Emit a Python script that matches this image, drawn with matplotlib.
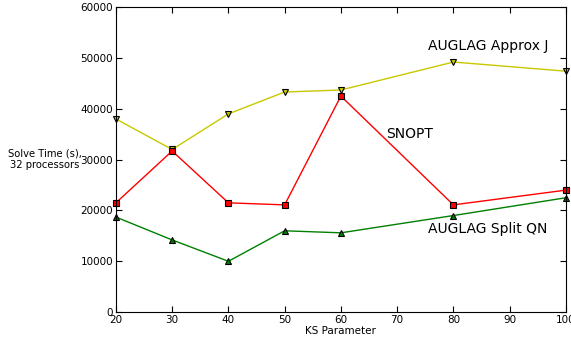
import matplotlib
matplotlib.use("Agg")
import matplotlib.pyplot as plt

ks = [20, 30, 40, 50, 60, 80, 100]
approx_j = [38000, 32000, 39000, 43300, 43700, 49200, 47400]
snopt = [21500, 31700, 21500, 21100, 42500, 21100, 24000]
split_qn = [18700, 14200, 10000, 16000, 15600, 19000, 22500]

fig = plt.figure(figsize=(5.71, 3.4), dpi=100)
ax = fig.add_axes([0.203, 0.082, 0.788, 0.897])

ax.plot(ks, approx_j, color="#c8c800", marker="v", markersize=5,
        markerfacecolor="#c8c800", markeredgecolor="black", markeredgewidth=0.8, lw=1, clip_on=False)
ax.plot(ks, snopt, color="red", marker="s", markersize=5,
        markerfacecolor="red", markeredgecolor="black", markeredgewidth=0.8, lw=1, clip_on=False)
ax.plot(ks, split_qn, color="green", marker="^", markersize=5,
        markerfacecolor="green", markeredgecolor="black", markeredgewidth=0.8, lw=1, clip_on=False)

ax.text(75.5, 52300, "AUGLAG Approx J", fontsize=10, va="center", ha="left")
ax.text(68, 35000, "SNOPT", fontsize=10, va="center", ha="left")
ax.text(75.5, 16300, "AUGLAG Split QN", fontsize=10, va="center", ha="left")

ax.set_xlim(20, 100)
ax.set_ylim(0, 60000)
ax.set_xticks(range(20, 101, 10))
ax.set_yticks(range(0, 60001, 10000))
ax.tick_params(direction="in", top=True, right=True, labelsize=7.5, length=4, pad=2)
ax.set_xlabel("KS Parameter", fontsize=7.5, labelpad=1)
ax.set_ylabel("Solve Time (s),\n32 processors", fontsize=7.2, rotation=0,
              ha="center", va="center")
ax.yaxis.set_label_coords(-0.158, 0.5)

fig.savefig("out.png", dpi=100)
